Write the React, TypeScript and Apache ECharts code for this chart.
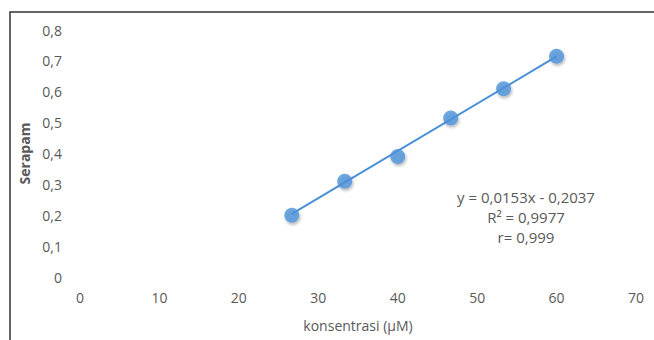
import React, { useEffect, useRef } from "react";
import * as echarts from "echarts";

const concentrations = [26.67, 33.33, 40, 46.67, 53.33, 60];
const absorbance = [0.2, 0.31, 0.39, 0.515, 0.61, 0.715];
const trendX = [26.67, 60];
const trendY = [0.2043, 0.7143];
const equationLines = ["y = 0,0153x - 0,2037", "R² = 0,9977", "r= 0,999"];
const xTitle = "konsentrasi (µM)";
const yTitle = "Serapam";

const fmt = (v: number) => String(Math.round(v * 10) / 10).replace(".", ",");

export default function App() {
  const ref = useRef<HTMLDivElement>(null);
  useEffect(() => {
    document.body.style.margin = "0";
    const chart = echarts.init(ref.current!, undefined, { renderer: "svg" });
    const font = "'Open Sans', 'Liberation Sans', sans-serif";
    const gray = "#595959";
    chart.setOption({
      animation: false,
      backgroundColor: "#fff",
      grid: { left: 80, right: 18, top: 30, bottom: 63 },
      xAxis: {
        type: "value",
        min: 0,
        max: 70,
        interval: 10,
        axisLine: { show: false },
        axisTick: { show: false },
        splitLine: { show: false },
        axisLabel: { color: gray, fontSize: 14, fontFamily: font, margin: 13 },
        name: xTitle,
        nameLocation: "middle",
        nameGap: 41,
        nameTextStyle: { color: gray, fontSize: 14, fontFamily: font },
      },
      yAxis: {
        type: "value",
        min: 0,
        max: 0.8,
        interval: 0.1,
        axisLine: { show: false },
        axisTick: { show: false },
        splitLine: { show: false },
        axisLabel: { color: gray, fontSize: 14, fontFamily: font, margin: 18, formatter: fmt },
        name: yTitle,
        nameLocation: "middle",
        nameGap: 48,
        nameTextStyle: { color: gray, fontSize: 14, fontFamily: font, fontWeight: "bold" },
      },
      series: [
        {
          type: "line",
          data: trendX.map((x, i) => [x, trendY[i]]),
          showSymbol: false,
          lineStyle: { color: "#4A90D9", width: 2 },
          z: 2,
        },
        {
          type: "scatter",
          data: concentrations.map((x, i) => [x, absorbance[i]]),
          symbolSize: 15,
          itemStyle: {
            color: "#4F93DB",
            shadowColor: "rgba(0,0,0,0.35)",
            shadowBlur: 3,
            shadowOffsetX: 1,
            shadowOffsetY: 2,
          },
          z: 3,
        },
      ],
      graphic: [
        {
          type: "polyline",
          shape: { points: [[654, 12], [10, 12], [10, 340]] },
          style: { stroke: "#333", lineWidth: 1.5, fill: "none" },
        },
        {
          type: "text",
          x: 526,
          y: 187,
          style: {
            text: equationLines.join("\n"),
            fill: gray,
            fontSize: 15,
            fontFamily: font,
            align: "center",
            lineHeight: 20,
          },
        },
      ],
    });
    return () => chart.dispose();
  }, []);
  return <div ref={ref} style={{ width: 654, height: 340 }} />;
}
